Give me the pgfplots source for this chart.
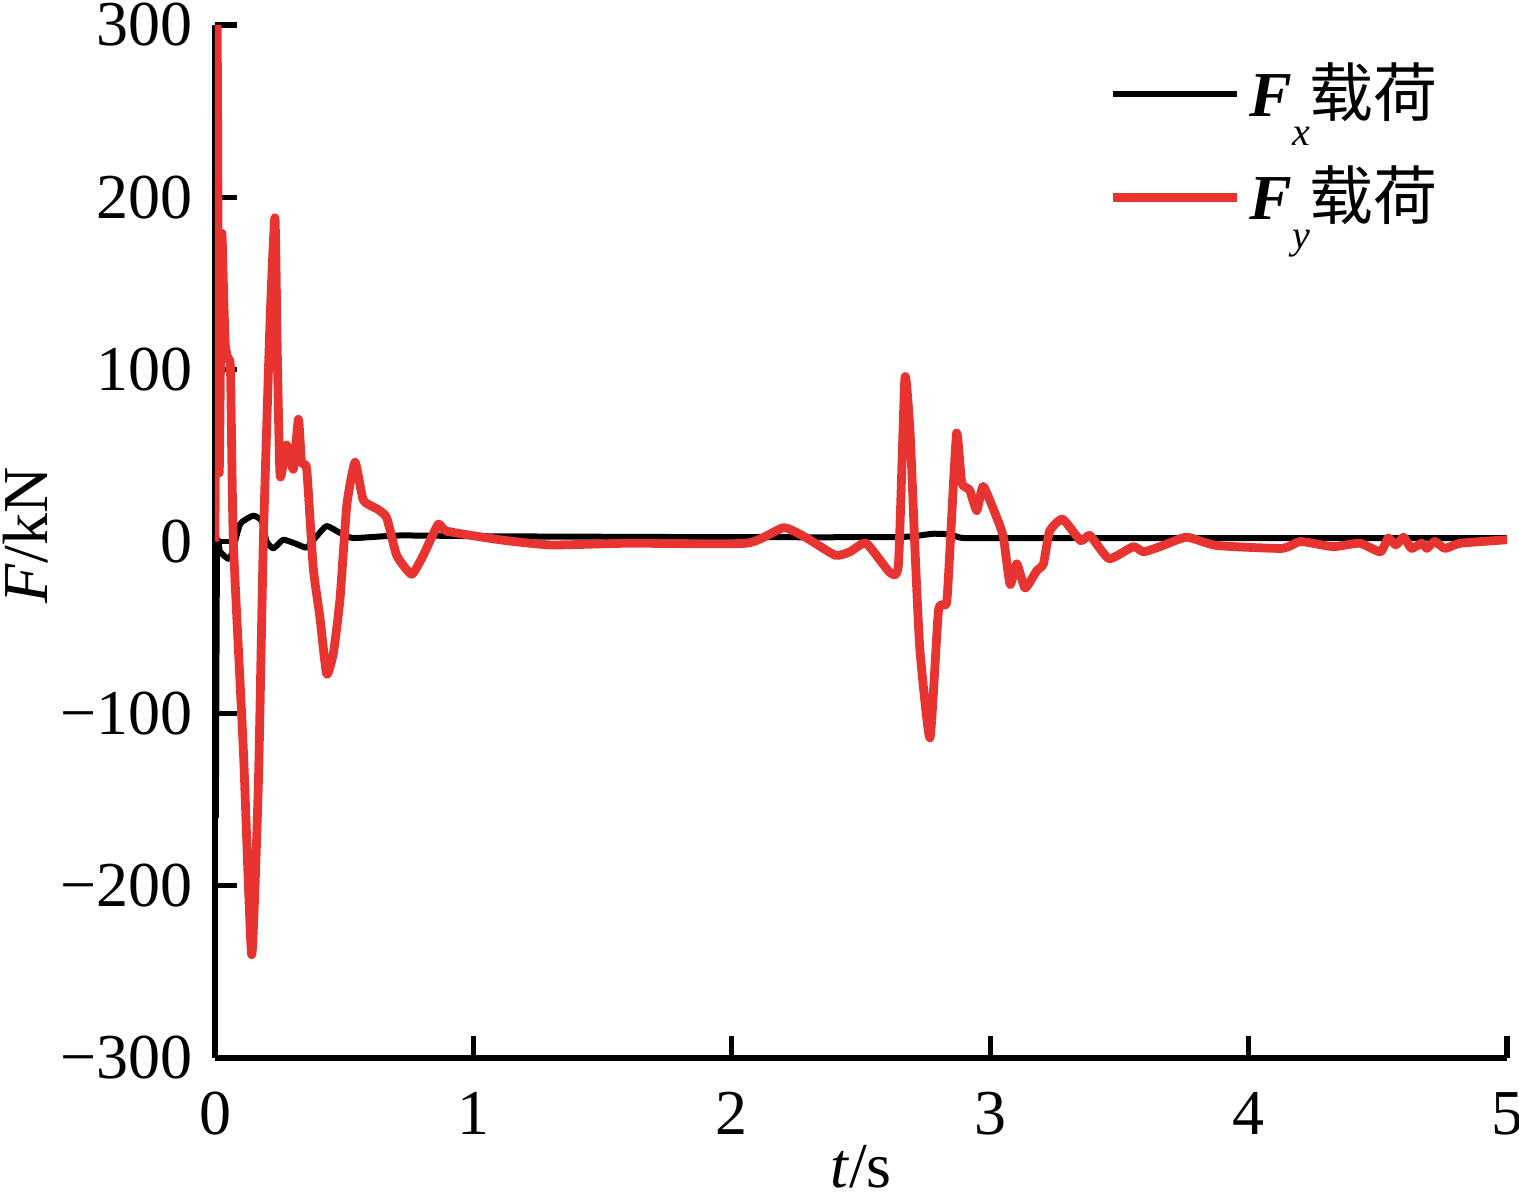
\documentclass[border=0pt]{standalone}
\usepackage{pgfplots}
\pgfplotsset{compat=1.18}
\usepackage{fontspec}
\setmainfont{Liberation Serif}
\newfontfamily\cjk{Noto Sans CJK SC}
\definecolor{fred}{RGB}{232,52,48}
\begin{document}
\fontsize{16}{19}\selectfont
\begin{tikzpicture}
\begin{axis}[
  at={(0,0)}, anchor=south west,
  scale only axis, width=323pt, height=258.25pt,
  xmin=0, xmax=5, ymin=-300, ymax=300,
  axis x line*=bottom, axis y line*=left,
  axis line style={line width=1.3pt},
  every tick/.style={line width=1.3pt, black},
  tick align=inside, major tick length=5.5pt,
  xtick={0,1,2,3,4,5}, xticklabels={0,1,2,3,4,5},
  ytick={-300,-200,-100,0,100,200,300},
  yticklabels={−300,−200,−100,0,100,200,300},
  ticklabel style={font=\fontsize{16}{19}\selectfont},
  xticklabel style={yshift=-3pt},
  xlabel={\textit{t}/s}, ylabel={\textit{F}/kN},
  label style={font=\fontsize{16}{19}\selectfont},
  xlabel style={at={(axis description cs:0.5,-0.1258)}, anchor=base},
  ylabel style={at={(axis description cs:-0.1293,0.506)}, anchor=base},
  legend style={draw=none, fill=none, at={(axis description cs:0.691,0.972)}, anchor=north west, inner sep=0pt, row sep=6pt, font=\fontsize{16}{19}\selectfont},
  legend cell align=left,
  legend image code/.code={\draw[#1] (0pt,0pt) -- (31pt,0pt);},
]
\addplot[black, line width=1.5pt, line join=round, smooth, tension=0.3] coordinates {
(0,0) (0.003,-160) (0.008,-4) (0.02,-6) (0.058,-10) (0.097,10) (0.148,15) (0.18,12) (0.2,0) (0.226,-4) (0.264,1) (0.316,-1.5) (0.355,-3.5) (0.393,3) (0.432,9) (0.484,5) (0.535,2) (0.716,3.5) (1.1,3) (2.0,2.5) (2.6,2.5) (2.7,3) (2.78,4.5) (2.85,4) (2.9,2) (3.2,2) (4.0,2) (5.0,2)
};
\addlegendentry{\textit{\textbf{F}}\raisebox{-0.45em}{\fontsize{10}{12}\selectfont\textit{x}}{\cjk 载荷}}
\addplot[fred, line width=2.2pt, line join=round, smooth, tension=0.3] coordinates {
(0,0) (0.008,300) (0.016,40) (0.026,178) (0.034,140) (0.04,114) (0.05,106) (0.06,100) (0.071,0) (0.11,-122) (0.142,-240) (0.168,-140) (0.187,0) (0.213,128) (0.232,188) (0.241,110) (0.252,38) (0.277,56) (0.303,42) (0.323,71) (0.335,46) (0.355,42) (0.38,-15) (0.406,-44) (0.432,-77) (0.458,-65) (0.484,-33) (0.51,21) (0.542,46) (0.574,24) (0.626,19) (0.664,14) (0.703,-8) (0.761,-19) (0.806,-8) (0.864,10) (0.897,6) (1.103,1) (1.3,-2) (1.6,-1) (2.057,-1) (2.2,8) (2.29,2) (2.4,-8) (2.457,-6) (2.52,-1) (2.612,-18) (2.645,-13) (2.67,95) (2.69,63) (2.709,-5) (2.728,-63) (2.767,-114) (2.8,-40) (2.831,-36) (2.844,-5) (2.87,63) (2.89,34) (2.92,30) (2.948,18) (2.973,32) (3.025,14) (3.051,2.5) (3.077,-25) (3.103,-13) (3.135,-27) (3.18,-17) (3.206,-13) (3.23,6) (3.28,13) (3.35,0.5) (3.386,3.5) (3.46,-10) (3.553,-3) (3.593,-6) (3.657,-3) (3.76,2.5) (3.876,-2.3) (4.13,-4) (4.2,0) (4.327,-3) (4.43,-1) (4.51,-6) (4.54,2) (4.57,-2) (4.6,2.5) (4.63,-4) (4.67,-1) (4.69,-4) (4.72,0) (4.76,-4) (4.82,-1) (5.0,1)
};
\addlegendentry{\textit{\textbf{F}}\raisebox{-0.45em}{\fontsize{10}{12}\selectfont\textit{y}}{\cjk 载荷}}
\end{axis}
\pgfresetboundingbox
\path (-53.75pt,-34.75pt) rectangle (326pt,264.5pt);
\end{tikzpicture}
\end{document}
